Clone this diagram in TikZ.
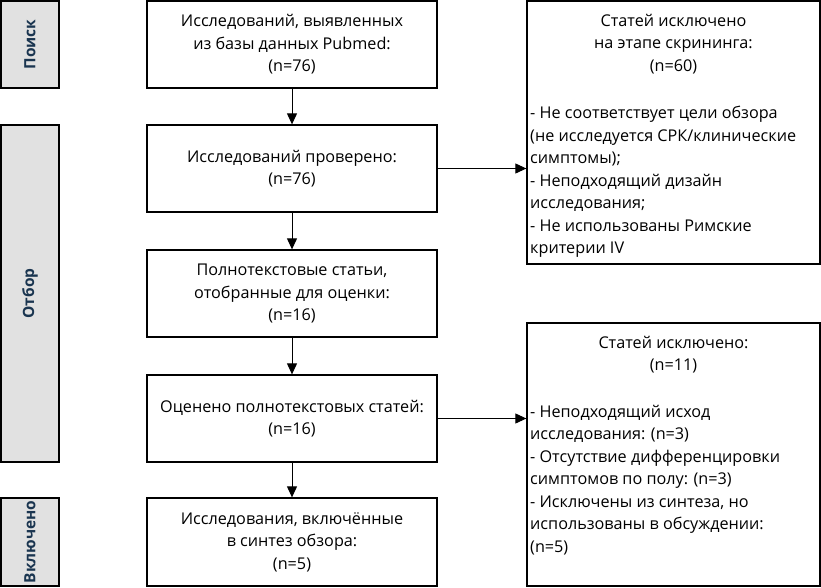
\documentclass[tikz,border=0pt]{standalone}
\usepackage{fontspec}
\setmainfont{Open Sans}
\usetikzlibrary{arrows.meta}
\definecolor{sidegray}{HTML}{E1E1E1}
\definecolor{labelblue}{HTML}{1A3550}
\begin{document}
\begin{tikzpicture}[x=1pt,y=-1pt,
  box/.style={draw, line width=1.3pt, inner sep=0pt, align=center,
    font=\fontsize{16.2}{22.5}\selectfont},
  sidebox/.style={draw, line width=1.3pt, fill=sidegray, inner sep=0pt},
  sidelabel/.style={rotate=90, font=\fontsize{15.5}{17}\selectfont\bfseries, text=labelblue, inner sep=0pt},
  arr/.style={-{Triangle[length=11pt,width=10pt]}, line width=1pt},
  head/.style={anchor=north, align=center, inner sep=0pt, font=\fontsize{16.2}{22.5}\selectfont},
  lst/.style={anchor=north west, align=left, inner sep=0pt, font=\fontsize{16.2}{22.5}\selectfont}]
\useasboundingbox (0,0) rectangle (821,587);

% side labels
\node[sidebox, minimum width=58pt, minimum height=87pt] (s1) at (30,44.5) {};
\node[sidelabel] (l1) at (s1.center) {Поиск};
\node[sidebox, minimum width=58pt, minimum height=337pt] (s2) at (30,293.5) {};
\node[sidelabel] (l2) at (s2.center) {Отбор};
\node[sidebox, minimum width=58pt, minimum height=88pt] (s3) at (30,542) {};
\node[sidelabel] (l3) at (s3.center) {Включено};

% main column
\node[box, minimum width=290pt, minimum height=87pt] (b1) at (292,44.5)
  {Исследований, выявленных\\из базы данных Pubmed:\\(n=76)};
\node[box, minimum width=290pt, minimum height=87pt] (b2) at (292,168.5)
  {Исследований проверено:\\(n=76)};
\node[box, minimum width=290pt, minimum height=87pt] (b3) at (292,293.5)
  {Полнотекстовые статьи,\\отобранные для оценки:\\(n=16)};
\node[box, minimum width=290pt, minimum height=87pt] (b4) at (292,418.5)
  {Оценено полнотекстовых статей:\\(n=16)};
\node[box, minimum width=290pt, minimum height=88pt] (b5) at (292,542)
  {Исследования, включённые\\в синтез обзора:\\(n=5)};

% right column
\node[box, minimum width=293pt, minimum height=263pt] (r1) at (673.5,132.5) {};
\node[head] (h1) at (673.5,14) {Статей исключено\\на этапе скрининга:\\(n=60)};
\node[lst] (t1) at (530,106) {- Не соответствует цели обзора\\(не исследуется СРК/клинические\\симптомы);\\- Неподходящий дизайн\\исследования;\\- Не использованы Римские\\критерии IV};

\node[box, minimum width=293pt, minimum height=263pt] (r2) at (673.5,454.5) {};
\node[head] (h2) at (673.5,336) {Статей исключено:\\(n=11)};
\node[lst] (t2) at (530,405) {- Неподходящий исход\\исследования: (n=3)\\- Отсутствие дифференцировки\\симптомов по полу: (n=3)\\- Исключены из синтеза, но\\использованы в обсуждении:\\(n=5)};

% connectors
\draw[arr] (b1) -- (b2);
\draw[arr] (b2) -- (b3);
\draw[arr] (b3) -- (b4);
\draw[arr] (b4) -- (b5);
\draw[arr] (b2.east) -- (b2.east -| r1.west);
\draw[arr] (b4.east) -- (b4.east -| r2.west);
\end{tikzpicture}
\end{document}
